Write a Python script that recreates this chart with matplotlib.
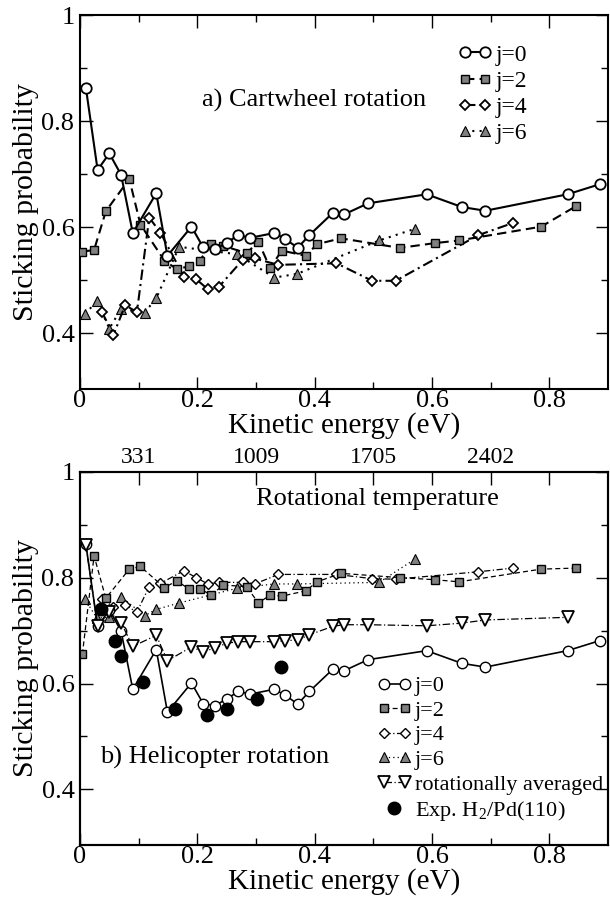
import matplotlib
matplotlib.use("Agg")
import matplotlib.pyplot as plt
from matplotlib.ticker import FixedLocator, FuncFormatter
from matplotlib.legend_handler import HandlerLine2D

plt.rcParams['font.family'] = ['Liberation Serif', 'DejaVu Serif']
plt.rcParams['mathtext.fontset'] = 'custom'
plt.rcParams['mathtext.rm'] = 'Liberation Serif'

# ---------------- data: panel a (cartwheel) ----------------
e_j0 = [0.010, 0.030, 0.050, 0.070, 0.090, 0.130, 0.149, 0.190, 0.210, 0.230, 0.250,
        0.270, 0.290, 0.331, 0.350, 0.371, 0.391, 0.431, 0.450, 0.491, 0.591, 0.651,
        0.691, 0.831, 0.886]
p_j0 = [0.863, 0.708, 0.739, 0.699, 0.589, 0.664, 0.546, 0.601, 0.562, 0.558, 0.571,
        0.585, 0.580, 0.589, 0.578, 0.561, 0.585, 0.627, 0.624, 0.645, 0.662, 0.638,
        0.631, 0.662, 0.681]

e_a_j2 = [0.004, 0.024, 0.044, 0.084, 0.103, 0.144, 0.165, 0.185, 0.204, 0.224, 0.244,
          0.284, 0.304, 0.324, 0.344, 0.385, 0.404, 0.445, 0.545, 0.605, 0.646, 0.786, 0.846]
p_a_j2 = [0.554, 0.557, 0.630, 0.691, 0.605, 0.537, 0.521, 0.526, 0.537, 0.568, 0.565,
          0.551, 0.573, 0.523, 0.556, 0.546, 0.568, 0.579, 0.561, 0.570, 0.575, 0.601, 0.640]

e_j4 = [0.037, 0.057, 0.077, 0.097, 0.118, 0.137, 0.177, 0.198, 0.218, 0.237, 0.277,
        0.298, 0.338, 0.437, 0.498, 0.538, 0.679, 0.738]
p_a_j4 = [0.441, 0.397, 0.453, 0.440, 0.618, 0.590, 0.507, 0.502, 0.483, 0.488, 0.538,
          0.541, 0.529, 0.532, 0.499, 0.499, 0.585, 0.608]

e_j6 = [0.0085, 0.029, 0.050, 0.070, 0.110, 0.130, 0.169, 0.268, 0.331, 0.370, 0.510, 0.571]
p_a_j6 = [0.436, 0.461, 0.409, 0.446, 0.439, 0.466, 0.563, 0.549, 0.505, 0.512, 0.575, 0.597]

# ---------------- data: panel b (helicopter) ----------------
p_b_j2 = [0.655, 0.841, 0.761, 0.816, 0.821, 0.781, 0.794, 0.779, 0.779, 0.767, 0.786,
          0.783, 0.752, 0.767, 0.765, 0.775, 0.792, 0.808, 0.800, 0.796, 0.792, 0.816, 0.818]
p_b_j4 = [0.760, 0.745, 0.748, 0.735, 0.783, 0.789, 0.813, 0.800, 0.788, 0.791, 0.791,
          0.788, 0.806, 0.806, 0.798, 0.797, 0.811, 0.818]
p_b_j6 = [0.759, 0.723, 0.726, 0.764, 0.728, 0.740, 0.752, 0.780, 0.788, 0.788, 0.791, 0.835]

e_avg = e_j0[:-1]
p_avg = [0.862, 0.708, 0.735, 0.715, 0.670, 0.691, 0.643, 0.669, 0.660, 0.667, 0.676,
         0.679, 0.679, 0.679, 0.681, 0.682, 0.692, 0.708, 0.711, 0.711, 0.709, 0.714,
         0.720, 0.725]

e_exp = [0.035, 0.060, 0.070, 0.108, 0.162, 0.216, 0.250, 0.301, 0.342]
p_exp = [0.740, 0.681, 0.652, 0.602, 0.552, 0.541, 0.552, 0.571, 0.632]

# top axis of panel b: rotational temperature
trot_pos = [0.1, 0.3, 0.5, 0.7]
trot_labels = ['331', '1009', '1705', '2402']

x_major = [0.0, 0.2, 0.4, 0.6, 0.8]
x_minor = [0.1, 0.3, 0.5, 0.7]
y_major = [0.4, 0.6, 0.8, 1.0]
y_minor = [0.5, 0.7, 0.9]

GRAY = '#808080'

fig = plt.figure(figsize=(6.10, 8.99), dpi=100)
axA = fig.add_axes([80/610, 1-389/899, 528/610, 374/899])
axB = fig.add_axes([80/610, 1-845/899, 528/610, 373.3/899])


def fmt(v, pos):
    if abs(v - round(v)) < 1e-9:
        return '%d' % round(v)
    return ('%g' % v)


def style_axis(ax, top_ticks=True):
    ax.set_xlim(0, 0.9)
    ax.set_ylim(0.295, 1.0)
    ax.xaxis.set_major_locator(FixedLocator(x_major))
    ax.xaxis.set_minor_locator(FixedLocator(x_minor))
    ax.yaxis.set_major_locator(FixedLocator(y_major))
    ax.yaxis.set_minor_locator(FixedLocator(y_minor))
    ax.xaxis.set_major_formatter(FuncFormatter(fmt))
    ax.yaxis.set_major_formatter(FuncFormatter(fmt))
    ax.tick_params(which='both', direction='in', right=True, top=top_ticks,
                   labelsize=19, width=1.0)
    ax.tick_params(axis='x', pad=1)
    ax.tick_params(axis='y', pad=4)
    ax.tick_params(which='major', length=9)
    ax.tick_params(which='minor', length=5)
    for s in ax.spines.values():
        s.set_linewidth(1.5)
    ax.set_xlabel('Kinetic energy (eV)', fontsize=21, labelpad=0)
    ax.set_ylabel('Sticking probability', fontsize=21.5, labelpad=2)


# ---------------- panel a ----------------
lwA = 1.5
axA.plot(e_j0, p_j0, '-', color='black', lw=lwA, marker='o', ms=7.5,
         mfc='white', mec='black', mew=1.3, label='j=0', zorder=5)
axA.plot(e_a_j2, p_a_j2, color='black', lw=lwA, ls=(0, (4.5, 2.5)), marker='s', ms=6,
         mfc=GRAY, mec='black', mew=1.0, label='j=2', zorder=4)
axA.plot(e_j4, p_a_j4, color='black', lw=lwA, ls=(0, (5, 2, 1, 2)), marker='D', ms=5.5,
         mfc='white', mec='black', mew=1.3, label='j=4', zorder=3)
axA.plot(e_j6, p_a_j6, color='black', lw=lwA, ls=(0, (1, 2.5)), marker='^', ms=7,
         mfc=GRAY, mec='black', mew=0.8, label='j=6', zorder=2)
style_axis(axA, top_ticks=True)
axA.text(0.2085, 0.838, 'a) Cartwheel rotation', fontsize=19, ha='left', va='center',
         transform=axA.transData)
legA = axA.legend(loc='center left', bbox_to_anchor=(378/528, 0.788), frameon=False,
                  fontsize=17, numpoints=2, handlelength=1.45, handletextpad=0.13,
                  labelspacing=0.2, borderpad=0.0, borderaxespad=0.0)

# ---------------- panel b ----------------
lwB = 0.9
axB.plot(e_j0, p_j0, '-', color='black', lw=1.2, marker='o', ms=7.5,
         mfc='white', mec='black', mew=1.0, label='j=0', zorder=5)
axB.plot(e_a_j2, p_b_j2, color='black', lw=lwB, ls=(0, (4, 2.5)), marker='s', ms=6,
         mfc=GRAY, mec='black', mew=1.0, label='j=2', zorder=4)
axB.plot(e_j4, p_b_j4, color='black', lw=lwB, ls=(0, (5, 2, 1, 2)), marker='D', ms=5.5,
         mfc='white', mec='black', mew=1.0, label='j=4', zorder=3)
axB.plot(e_j6, p_b_j6, color='black', lw=lwB, ls=(0, (1, 2.5)), marker='^', ms=7,
         mfc=GRAY, mec='black', mew=0.8, label='j=6', zorder=2)
axB.plot(e_avg, p_avg, color='black', lw=lwB, ls=(0, (6, 2, 1, 2)), marker='v', ms=8,
         mfc='white', mec='black', mew=1.3, label='rotationally averaged', zorder=6)
hexp, = axB.plot(e_exp, p_exp, ls='none', marker='o', ms=9, mfc='black', mec='black',
                 label=r'Exp. H$_\mathregular{2}$/Pd(110)', zorder=7)
style_axis(axB, top_ticks=False)
axB.text(0.3005, 0.949, 'Rotational temperature', fontsize=19, ha='left', va='center',
         transform=axB.transData)
axB.text(0.034, 0.460, 'b) Helicopter rotation', fontsize=19, ha='left', va='center',
         transform=axB.transData)
legB = axB.legend(loc='center left', bbox_to_anchor=(297/528, 0.2566), frameon=False,
                  fontsize=16, numpoints=2, handlelength=1.55, handletextpad=0.15,
                  labelspacing=0.18, borderpad=0.0, borderaxespad=0.0,
                  handler_map={hexp: HandlerLine2D(numpoints=1)})

axT = axB.twiny()
axT.set_xlim(0, 0.9)
axT.xaxis.set_major_locator(FixedLocator(trot_pos))
axT.set_xticklabels(trot_labels)
axT.xaxis.set_minor_locator(FixedLocator([0.2, 0.4, 0.6, 0.8]))
axT.tick_params(which='both', direction='in', length=9, width=1.0, labelsize=17, pad=3)
for s in axT.spines.values():
    s.set_linewidth(1.5)

fig.savefig('out.png', dpi=100)
